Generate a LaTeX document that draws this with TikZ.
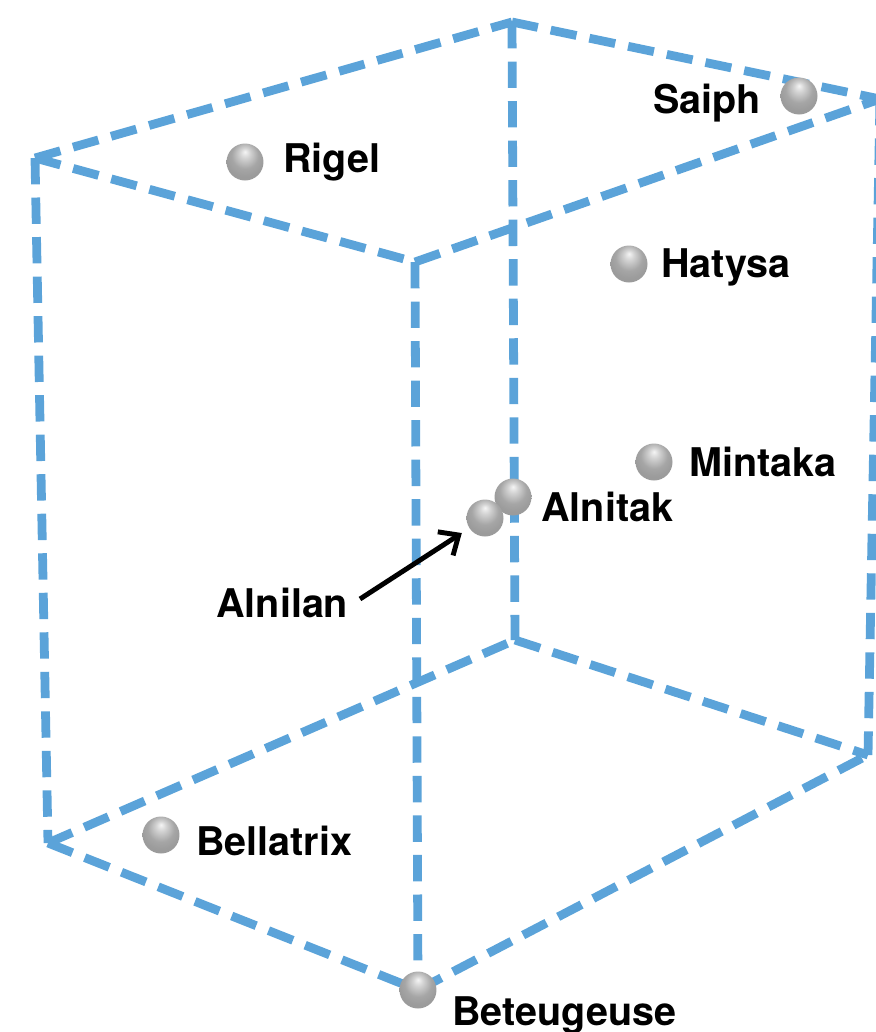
\documentclass[tikz,border=0pt]{standalone}
\usepackage{fontspec}
\setmainfont{TeX Gyre Heros}
\usepackage{tikz}
\usetikzlibrary{arrows.meta}

\definecolor{edgeblue}{RGB}{91,163,217}
\pgfdeclareradialshading{starshade}{\pgfpoint{0bp}{14bp}}{%
  color(0bp)=(gray!8);
  color(7bp)=(gray!35);
  color(18bp)=(gray!70);
  color(26bp)=(gray!78);
  color(50bp)=(gray!80)}

\begin{document}
\begin{tikzpicture}[x=0.02cm, y=-0.02cm,
  edge/.style={edgeblue, line width=5pt, dash pattern=on 15pt off 7.5pt},
  starball/.style={circle, minimum size=0.74cm, inner sep=0pt, shading=starshade},
  lbl/.style={anchor=base west, inner sep=0pt, font=\fontsize{22.5}{26}\selectfont\bfseries}]

\useasboundingbox (0,0) rectangle (876,1032);

% Box corners
\coordinate (tl) at ( 35, 158 );
\coordinate (tb) at ( 512, 22 );
\coordinate (tr) at ( 880, 99 );
\coordinate (tf) at ( 415, 262 );
\coordinate (bl) at ( 48, 843 );
\coordinate (bb) at ( 515, 640 );
\coordinate (br) at ( 868, 755 );
\coordinate (bf) at ( 418, 990 );

% Top face
\draw [edge] (tl) -- (tb);
\draw [edge] (tb) -- (tr);
\draw [edge] (tl) -- (tf);
\draw [edge] (tf) -- (tr);

% Verticals
\draw [edge] (tl) -- (bl);
\draw [edge] (tb) -- (bb);
\draw [edge] (tf) -- (bf);
\draw [edge] (tr) -- (br);

% Bottom face
\draw [edge] (bl) -- (bb);
\draw [edge] (bb) -- (br);
\draw [edge] (bl) -- (bf);
\draw [edge] (bf) -- (br);

% Stars
\node [starball] (rigel) at ( 245, 162 ) {};
\node [starball] (saiph) at ( 799, 96 ) {};
\node [starball] (hatysa) at ( 629, 264 ) {};
\node [starball] (mintaka) at ( 654, 462 ) {};
\node [starball] (alnitak) at ( 513, 497 ) {};
\node [starball] (alnilan) at ( 485, 518 ) {};
\node [starball] (bellatrix) at ( 161, 835 ) {};
\node [starball] (beteugeuse) at ( 418, 990 ) {};

% Names
\node [lbl] (lblRigel) at ( 283, 172 ) {Rigel};
\node [lbl] (lblSaiph) at ( 653, 113 ) {Saiph};
\node [lbl] (lblHatysa) at ( 661, 277 ) {Hatysa};
\node [lbl] (lblMintaka) at ( 689, 476 ) {Mintaka};
\node [lbl] (lblAlnitak) at ( 541, 521 ) {Alnitak};
\node [lbl] (lblAlnilan) at ( 216, 617 ) {Alnilan};
\node [lbl] (lblBellatrix) at ( 196, 855 ) {Bellatrix};
\node [lbl] (lblBeteugeuse) at ( 452, 1025 ) {Beteugeuse};

% Pointer
\coordinate (ptr) at ( 360, 599 );
\draw [line width=2.8pt, -{Straight Barb[length=9pt, width=16pt]}, shorten >=5pt] (ptr) -- (alnilan);

\end{tikzpicture}
\end{document}
